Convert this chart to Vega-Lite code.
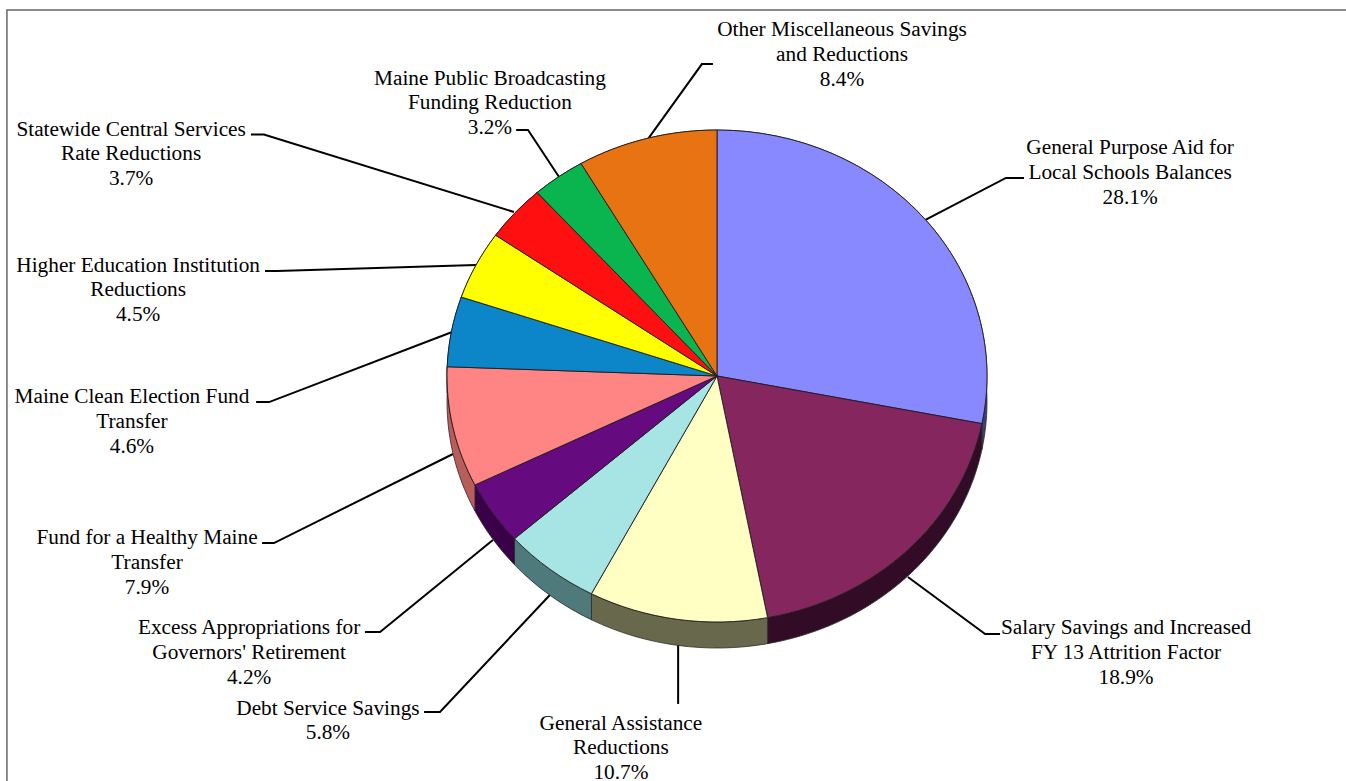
{
"$schema":"https://vega.github.io/schema/vega-lite/v6.json",
"width":1346,"height":781,"autosize":{"type":"none"},"padding":0,"background":"white",
"config":{"view":{"stroke":null}},
"datasets":{
"slices":[
{"order":1,"name":"General Purpose Aid for Local Schools Balances","label":"General Purpose Aid for\nLocal Schools Balances","value":28.1,"lx":1.53,"ly":0.925},
{"order":2,"name":"Salary Savings and Increased FY 13 Attrition Factor","label":"Salary Savings and Increased\nFY 13 Attrition Factor","value":18.9,"lx":1.515,"ly":-1.026},
{"order":3,"name":"General Assistance Reductions","label":"General Assistance\nReductions","value":10.7,"lx":-0.356,"ly":-1.413},
{"order":4,"name":"Debt Service Savings","label":"Debt Service Savings","value":5.8,"lx":-1.441,"ly":-1.352},
{"order":5,"name":"Excess Appropriations for Governors' Retirement","label":"Excess Appropriations for\nGovernors' Retirement","value":4.2,"lx":-1.733,"ly":-1.026},
{"order":6,"name":"Fund for a Healthy Maine Transfer","label":"Fund for a Healthy Maine\nTransfer","value":7.9,"lx":-2.111,"ly":-0.66},
{"order":7,"name":"Maine Clean Election Fund Transfer","label":"Maine Clean Election Fund\nTransfer","value":4.6,"lx":-2.167,"ly":-0.087},
{"order":8,"name":"Higher Education Institution Reductions","label":"Higher Education Institution\nReductions","value":4.5,"lx":-2.144,"ly":0.449},
{"order":9,"name":"Statewide Central Services Rate Reductions","label":"Statewide Central Services\nRate Reductions","value":3.7,"lx":-2.17,"ly":1.002},
{"order":10,"name":"Maine Public Broadcasting Funding Reduction","label":"Maine Public Broadcasting\nFunding Reduction","value":3.2,"lx":-0.841,"ly":1.209},
{"order":11,"name":"Other Miscellaneous Savings and Reductions","label":"Other Miscellaneous Savings\nand Reductions","value":8.4,"lx":0.463,"ly":1.405}
],
"leaders":[
{"id":"a1","s":1,"x":0.77,"y":0.634},{"id":"a1","s":2,"x":1.07,"y":0.805},{"id":"a1","s":3,"x":1.137,"y":0.805},
{"id":"a2","s":1,"x":0.707,"y":-0.817},{"id":"a2","s":2,"x":0.993,"y":-1.049},{"id":"a2","s":3,"x":1.048,"y":-1.049},
{"id":"a3","s":1,"x":-0.144,"y":-1.089},{"id":"a3","s":2,"x":-0.144,"y":-1.333},
{"id":"a4","s":1,"x":-0.619,"y":-0.89},{"id":"a4","s":2,"x":-1.026,"y":-1.366},{"id":"a4","s":3,"x":-1.085,"y":-1.366},
{"id":"a5","s":1,"x":-0.83,"y":-0.667},{"id":"a5","s":2,"x":-1.248,"y":-1.041},{"id":"a5","s":3,"x":-1.304,"y":-1.041},
{"id":"a6","s":1,"x":-0.978,"y":-0.317},{"id":"a6","s":2,"x":-1.641,"y":-0.679},{"id":"a6","s":3,"x":-1.685,"y":-0.679},
{"id":"a7","s":1,"x":-0.981,"y":0.179},{"id":"a7","s":2,"x":-1.659,"y":-0.106},{"id":"a7","s":3,"x":-1.707,"y":-0.106},
{"id":"a8","s":1,"x":-0.893,"y":0.451},{"id":"a8","s":2,"x":-1.63,"y":0.427},{"id":"a8","s":3,"x":-1.674,"y":0.427},
{"id":"a9","s":1,"x":-0.752,"y":0.667},{"id":"a9","s":2,"x":-1.678,"y":0.982},{"id":"a9","s":3,"x":-1.726,"y":0.982},
{"id":"a10","s":1,"x":-0.585,"y":0.809},{"id":"a10","s":2,"x":-0.7,"y":1.0},{"id":"a10","s":3,"x":-0.744,"y":1.0},
{"id":"a11","s":1,"x":-0.256,"y":0.963},{"id":"a11","s":2,"x":-0.056,"y":1.268},{"id":"a11","s":3,"x":-0.015,"y":1.268}
],
"frame":[{"s":1,"x":2.3296,"y":1.488},{"s":2,"x":-2.63,"y":1.488},{"s":3,"x":-2.63,"y":-1.6463}]
},
"layer":[
{"data":{"name":"frame"},"mark":{"type":"line","color":"#666666","strokeWidth":1.5,"clip":false},
 "encoding":{
  "x":{"field":"x","type":"quantitative","axis":null,"scale":{"domain":[-2.6556,2.3296],"nice":false,"zero":false}},
  "y":{"field":"y","type":"quantitative","axis":null,"scale":{"domain":[-1.6463,1.5285],"nice":false,"zero":false}},
  "order":{"field":"s"}}},
{"data":{"name":"leaders"},"mark":{"type":"line","color":"black","strokeWidth":2},
 "encoding":{
  "x":{"field":"x","type":"quantitative"},
  "y":{"field":"y","type":"quantitative"},
  "detail":{"field":"id","type":"nominal"},
  "order":{"field":"s"}}},
{"data":{"name":"slices"},
 "transform":[
  {"window":[{"op":"sum","field":"value","as":"end"}],"sort":[{"field":"order"}]},
  {"calculate":"(datum.end-datum.value)/100*2*PI","as":"a0"},
  {"calculate":"datum.end/100*2*PI","as":"a1"},
  {"calculate":"round(sin(datum.a0)*100000)/100000","as":"x0"},
  {"calculate":"round(sin(datum.a1)*100000)/100000","as":"x1"},
  {"calculate":"round(-91110*cos(datum.a0))/100000","as":"y0"},
  {"calculate":"round(-91110*cos(datum.a1))/100000","as":"y1"},
  {"calculate":"'M'+datum.x0+','+datum.y0+'A1,0.9111 0 0 1 '+datum.x1+','+datum.y1+'L'+datum.x1+','+(round((datum.y1+0.0963)*100000)/100000)+'A1,0.9111 0 0 0 '+datum.x0+','+(round((datum.y0+0.0963)*100000)/100000)+'Z'","as":"sidePath"}
 ],
 "mark":{"type":"point","filled":true,"opacity":1,"stroke":"#2a2a2a","strokeWidth":0.8},
 "encoding":{
  "x":{"datum":0,"type":"quantitative"},
  "y":{"datum":0,"type":"quantitative"},
  "size":{"value":291600},
  "shape":{"field":"sidePath","type":"nominal","scale":null},
  "color":{"field":"order","type":"ordinal","legend":null,
   "scale":{"range":["#3c3c80","#320c27","#68684d","#4f7a7b","#3a0048","#b85c5c","#064364","#808000","#800808","#055b28","#743a09"]}}}},
{"data":{"name":"slices"},
 "transform":[
  {"window":[{"op":"sum","field":"value","as":"end"}],"sort":[{"field":"order"}]},
  {"calculate":"(datum.end-datum.value)/100*2*PI","as":"a0"},
  {"calculate":"datum.end/100*2*PI","as":"a1"},
  {"calculate":"'M0,0L'+(round(sin(datum.a0)*100000)/100000)+','+(round(-91110*cos(datum.a0))/100000)+'A1,0.9111 0 0 1 '+(round(sin(datum.a1)*100000)/100000)+','+(round(-91110*cos(datum.a1))/100000)+'Z'","as":"facePath"}
 ],
 "mark":{"type":"point","filled":true,"opacity":1,"stroke":"#1c1c1c","strokeWidth":0.9},
 "encoding":{
  "x":{"datum":0,"type":"quantitative"},
  "y":{"datum":0,"type":"quantitative"},
  "size":{"value":291600},
  "shape":{"field":"facePath","type":"nominal","scale":null},
  "color":{"field":"order","type":"ordinal","legend":null,
   "scale":{"range":["#8888ff","#85265f","#ffffc4","#a6e5e4","#660a7f","#ff8585","#0c86c8","#ffff00","#ff0f0f","#0ab550","#e87312"]}}}},
{"data":{"name":"slices"},
 "transform":[{"calculate":"datum.label+'\\n'+format(datum.value,'.1f')+'%'","as":"text"}],
 "mark":{"type":"text","font":"Liberation Serif","fontSize":21.3,"lineHeight":24.6,"lineBreak":"\n","align":"center","baseline":"middle","color":"black"},
 "encoding":{
  "x":{"field":"lx","type":"quantitative"},
  "y":{"field":"ly","type":"quantitative"},
  "text":{"field":"text","type":"nominal"}}}
],
"resolve":{"scale":{"color":"independent"}}
}
